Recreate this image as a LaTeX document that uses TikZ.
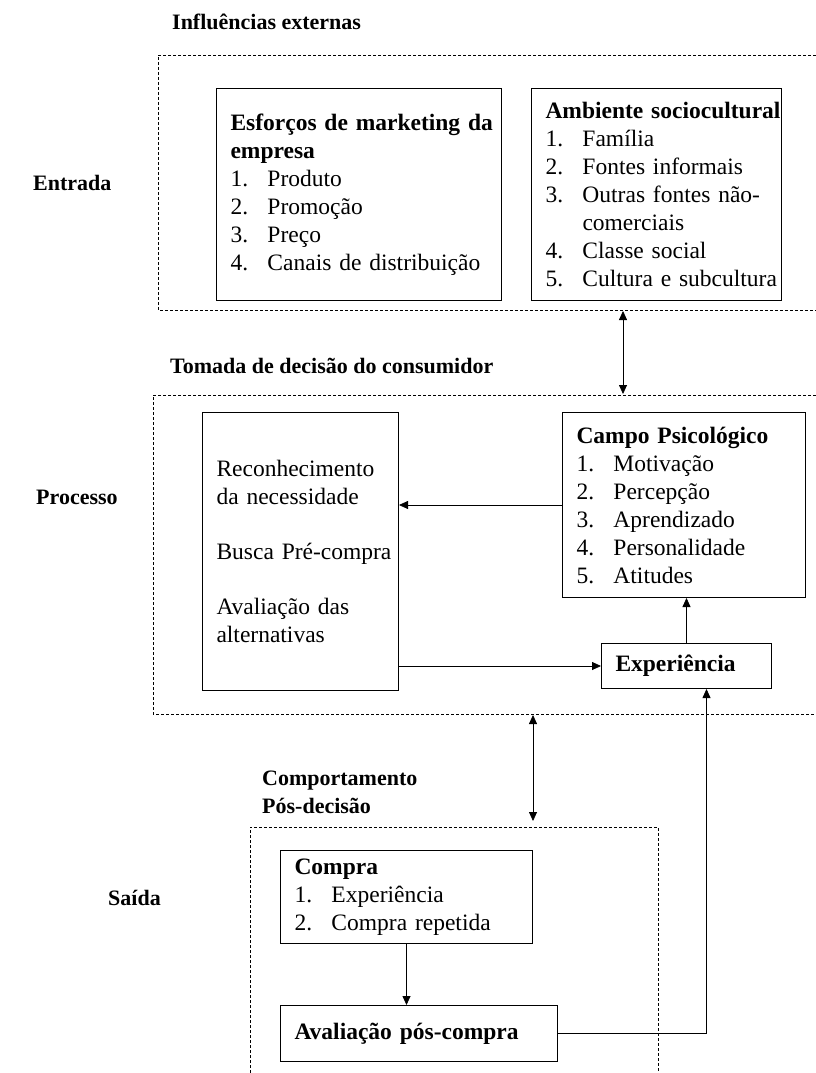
\documentclass[tikz,border=0pt]{standalone}
\usepackage{fontspec}
\setmainfont{Liberation Serif}
\usetikzlibrary{arrows.meta}
\hyphenpenalty=10000
\exhyphenpenalty=10000
\newcommand{\nitem}[1]{\makebox[37pt][l]{#1}}

\begin{document}
\begin{tikzpicture}[x=1pt,y=-1pt,
  caixa/.style={draw,line width=1pt,anchor=north west,align=left,inner xsep=14pt,inner ysep=0pt,font=\fontsize{23.5}{28}\selectfont},
  tracejado/.style={line width=0.7pt,dash pattern=on 3pt off 2pt},
  rotulo/.style={anchor=west,align=left,inner sep=0pt,font=\fontsize{22}{28}\selectfont\bfseries},
  seta/.style={-{Triangle[length=9pt,width=8pt]},line width=0.8pt},
  dupla/.style={{Triangle[length=9pt,width=8pt]}-{Triangle[length=9pt,width=8pt]},line width=0.8pt}]
\fill[white] (0,0) rectangle (816,1073);
\useasboundingbox (0,0) rectangle (816,1073);

% blocos tracejados
\draw[tracejado] (816,55) -- (158,55) -- (158,310) -- (816,310);
\draw[tracejado] (816,395) -- (153,395) -- (153,714) -- (816,714);
\draw[tracejado] (250,1073) -- (250,827) -- (658,827) -- (658,1073);

% rotulos
\node[rotulo] (tExternas) at (172,22) {Influências externas};
\node[rotulo] (tEntrada) at (33,183) {Entrada};
\node[rotulo] (tDecisao) at (170,366) {Tomada de decisão do consumidor};
\node[rotulo] (tProcesso) at (36,497) {Processo};
\node[rotulo] (tPos) at (262,792) {Comportamento\\Pós-decisão};
\node[rotulo] (tSaida) at (108,898) {Saída};

% entrada
\node[caixa,text width=257pt,minimum height=212pt] (esforcos) at (216,88)
  {{\bfseries \mbox{Esforços de marketing da}}\\ {\bfseries empresa}\\
   \nitem{1.}Produto\\ \nitem{2.}Promoção\\ \nitem{3.}Preço\\ \nitem{4.}\mbox{Canais de distribuição}};
\node[caixa,text width=222pt,minimum height=212pt] (ambiente) at (531,88)
  {{\bfseries \mbox{Ambiente sociocultural}}\\ \nitem{1.}Família\\ \nitem{2.}Fontes informais\\
   \nitem{3.}\mbox{Outras fontes não-}\\ \hspace*{37pt}comerciais\\ \nitem{4.}Classe social\\
   \nitem{5.}\mbox{Cultura e subcultura}};

% processo
\node[caixa,text width=168pt,minimum height=278pt] (alt) at (202,412)
  {Reconhecimento\\ da necessidade\\[27pt] \mbox{Busca Pré-compra}\\[27pt] Avaliação das\\ alternativas};
\node[caixa,text width=215pt,minimum height=185pt] (campo) at (562,412)
  {{\bfseries Campo Psicológico}\\ \nitem{1.}Motivação\\ \nitem{2.}Percepção\\
   \nitem{3.}Aprendizado\\ \nitem{4.}Personalidade\\ \nitem{5.}Atitudes};
\node[caixa,text width=142pt,minimum height=45pt] (exp) at (601,643) {\bfseries Experiência};

% saida
\node[caixa,text width=224pt,minimum height=93pt] (compra) at (280,850)
  {{\bfseries Compra}\\ \nitem{1.}Experiência\\ \nitem{2.}Compra repetida};
\node[caixa,text width=249pt,minimum height=56pt] (aval) at (280,1005) {\bfseries Avaliação pós-compra};

\coordinate (e1) at (623,311);
\coordinate (p1) at (623,394);
\coordinate (p2) at (533,715);
\coordinate (s1) at (533,821);
\draw[dupla] (e1) -- (p1);
\draw[dupla] (p2) -- (s1);

\draw[seta] (campo.west) -- (campo.west -| alt.east);
\draw[seta] (exp.west -| alt.east) -- (exp.west);
\draw[seta] (exp.north) -- (exp.north |- campo.south);
\draw[seta] (compra.south) -- (compra.south |- aval.north);
\draw[seta] (aval.east) -| ([xshift=20pt]exp.south);
\end{tikzpicture}
\end{document}
